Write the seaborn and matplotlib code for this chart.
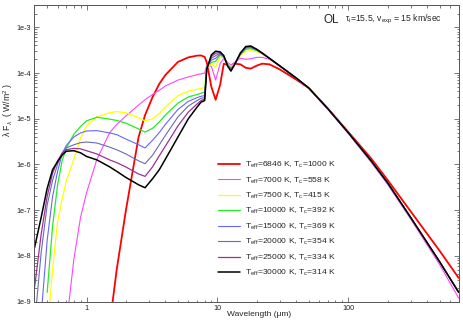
import numpy as np
import pandas as pd
import matplotlib
matplotlib.use('Agg')
import matplotlib.pyplot as plt
import seaborn as sns
from matplotlib.ticker import LogLocator, FuncFormatter, NullFormatter, FixedLocator

# Wavelength grid (micron) and lambda*F_lambda (W/m^2)
wavelength = [0.4, 0.45, 0.5, 0.55, 0.6, 0.65, 0.7, 0.8, 0.9, 1.0, 1.2, 1.5, 1.7, 2.0,
              2.5, 2.8, 3.2, 3.6, 4.0, 5.0, 6.0, 7.0, 7.5, 8.0, 8.3, 9.0, 9.7, 10.5,
              11.2, 12.0, 12.7, 13.5, 15.0, 16.5, 18.0, 20.0, 22.0, 25.0, 30.0, 40.0,
              50.0, 70.0, 100.0, 150.0, 200.0, 300.0, 500.0, 700.0]

flux_6846 = [None, None, None, None, None, None, None, None, None, None, None, 3e-10, 5e-9, 1.0e-7,
             4e-6, 1.2e-5, 3e-5, 5.8e-5, 9e-5, 1.75e-4, 2.2e-4, 2.4e-4, 2.42e-4, 2.25e-4, 1.7e-4, 5e-5, 2.6e-5, 5.5e-5,
             1.6e-4, 1.5e-4, 1.3e-4, 1.6e-4, 1.55e-4, 1.3e-4, 1.25e-4, 1.45e-4, 1.6e-4, 1.55e-4, 1.2e-4, 7.2e-5,
             4.7e-5, 1.68e-5, 5.2e-6, 1.35e-6, 4.6e-7, 9.5e-8, 1.3e-8, 3.3e-9]
flux_7000 = [None, None, None, None, None, None, 3e-10, 8.5e-9, 7e-8, 2.4e-7, 1.3e-6, 4.9e-6, 7.5e-6, 1.15e-5,
             2.0e-5, 2.6e-5, 3.4e-5, 4.2e-5, 5.2e-5, 7e-5, 8.2e-5, 9.2e-5, 9.6e-5, 1.0e-4, 1.5e-4, 1.4e-4, 7e-5, 1.6e-4,
             2.1e-4, 1.7e-4, 1.5e-4, 1.7e-4, 2.1e-4, 2.0e-4, 2.05e-4, 2.2e-4, 2.2e-4, 2.0e-4, 1.42e-4, 7.6e-5,
             4.6e-5, 1.6e-5, 4.8e-6, 1.12e-6, 3.7e-7, 6.5e-8, 6.5e-9, 1.2e-9]
flux_7500 = [None, None, 2e-10, 5e-9, 5.6e-8, 1.7e-7, 4.4e-7, 1.3e-6, 3.8e-6, 7e-6, 1.1e-5, 1.35e-5, 1.44e-5, 1.35e-5,
             1.05e-5, 9e-6, 1.0e-5, 1.3e-5, 1.8e-5, 3.2e-5, 4.0e-5, 4.4e-5, 4.6e-5, 4.8e-5, 1.3e-4, 1.6e-4, 1.35e-4, 2.3e-4,
             2.15e-4, 1.6e-4, 1.35e-4, 1.55e-4, 2.4e-4, 3.0e-4, 3.1e-4, 2.9e-4, 2.6e-4, 2.05e-4, 1.45e-4, 7.9e-5,
             4.75e-5, 1.65e-5, 5.0e-6, 1.2e-6, 4.0e-7, 7.0e-8, 7.5e-9, 1.6e-9]
flux_10000 = [None, None, 1.6e-9, 4.5e-8, 3.5e-7, 1.2e-6, 2.3e-6, 4.6e-6, 6.8e-6, 9e-6, 1.08e-5, 9.8e-6, 9.2e-6, 8e-6,
              6e-6, 5.1e-6, 6.2e-6, 8.5e-6, 1.2e-5, 2.2e-5, 3.0e-5, 3.4e-5, 3.6e-5, 3.8e-5, 1.4e-4, 1.7e-4, 1.8e-4, 2.5e-4,
              2.2e-4, 1.55e-4, 1.3e-4, 1.5e-4, 2.5e-4, 3.3e-4, 3.4e-4, 3.1e-4, 2.65e-4, 2.08e-4, 1.45e-4, 7.9e-5,
              4.75e-5, 1.65e-5, 5.0e-6, 1.2e-6, 4.0e-7, 7.0e-8, 7.5e-9, 1.6e-9]
flux_15000 = [None, 5e-10, 2.2e-8, 2e-7, 7e-7, 1.7e-6, 2.6e-6, 4e-6, 4.9e-6, 5.4e-6, 5.5e-6, 4.9e-6, 4.5e-6, 3.6e-6,
              2.7e-6, 2.3e-6, 3.4e-6, 5e-6, 7.5e-6, 1.6e-5, 2.4e-5, 2.9e-5, 3.1e-5, 3.2e-5, 1.35e-4, 1.9e-4, 2.1e-4, 2.6e-4,
              2.25e-4, 1.5e-4, 1.25e-4, 1.5e-4, 2.6e-4, 3.5e-4, 3.6e-4, 3.2e-4, 2.7e-4, 2.1e-4, 1.43e-4, 7.8e-5,
              4.7e-5, 1.65e-5, 5.0e-6, 1.2e-6, 4.0e-7, 7.0e-8, 7.5e-9, 1.6e-9]
flux_20000 = [3e-10, 1.2e-8, 1.3e-7, 4.5e-7, 1.0e-6, 1.8e-6, 2.3e-6, 2.7e-6, 3.0e-6, 3.1e-6, 2.95e-6, 2.4e-6, 2.1e-6, 1.7e-6,
              1.2e-6, 1.04e-6, 1.6e-6, 2.7e-6, 4.3e-6, 1.1e-5, 1.9e-5, 2.5e-5, 2.8e-5, 2.9e-5, 1.3e-4, 2.1e-4, 2.4e-4, 2.7e-4,
              2.3e-4, 1.5e-4, 1.2e-4, 1.5e-4, 2.65e-4, 3.6e-4, 3.7e-4, 3.25e-4, 2.7e-4, 2.1e-4, 1.43e-4, 7.8e-5,
              4.7e-5, 1.65e-5, 5.0e-6, 1.2e-6, 4.0e-7, 7.0e-8, 7.5e-9, 1.6e-9]
flux_25000 = [2e-9, 3e-8, 2e-7, 6.5e-7, 1.2e-6, 1.75e-6, 2.1e-6, 2.25e-6, 2.2e-6, 2.0e-6, 1.7e-6, 1.26e-6, 1.1e-6, 8.8e-7,
              6.2e-7, 5.5e-7, 8.9e-7, 1.55e-6, 2.5e-6, 7e-6, 1.4e-5, 2.1e-5, 2.5e-5, 2.7e-5, 1.25e-4, 2.3e-4, 2.7e-4, 2.8e-4,
              2.35e-4, 1.45e-4, 1.15e-4, 1.5e-4, 2.7e-4, 3.7e-4, 3.8e-4, 3.3e-4, 2.7e-4, 2.1e-4, 1.43e-4, 7.8e-5,
              4.7e-5, 1.65e-5, 5.0e-6, 1.2e-6, 4.0e-7, 7.0e-8, 7.5e-9, 1.6e-9]
flux_30000 = [1.5e-8, 7e-8, 3e-7, 7.7e-7, 1.15e-6, 1.6e-6, 1.95e-6, 2.0e-6, 1.8e-6, 1.5e-6, 1.26e-6, 8.9e-7, 7.1e-7, 5.2e-7,
              3.6e-7, 3.1e-7, 4.9e-7, 7.7e-7, 1.3e-6, 4e-6, 1e-5, 1.8e-5, 2.3e-5, 2.5e-5, 1.2e-4, 2.5e-4, 3.0e-4, 2.9e-4,
              2.4e-4, 1.4e-4, 1.1e-4, 1.5e-4, 2.75e-4, 3.8e-4, 3.9e-4, 3.3e-4, 2.75e-4, 2.1e-4, 1.43e-4, 7.8e-5,
              4.7e-5, 1.65e-5, 5.0e-6, 1.2e-6, 4.0e-7, 7.0e-8, 7.5e-9, 1.6e-9]

labels = [r'T$_{\rm eff}$=6846 K, T$_{\rm c}$=1000 K',
          r'T$_{\rm eff}$=7000 K, T$_{\rm c}$=558 K',
          r'T$_{\rm eff}$=7500 K, T$_{\rm c}$=415 K',
          r'T$_{\rm eff}$=10000 K, T$_{\rm c}$=392 K',
          r'T$_{\rm eff}$=15000 K, T$_{\rm c}$=369 K',
          r'T$_{\rm eff}$=20000 K, T$_{\rm c}$=354 K',
          r'T$_{\rm eff}$=25000 K, T$_{\rm c}$=334 K',
          r'T$_{\rm eff}$=30000 K, T$_{\rm c}$=314 K']
series = [flux_6846, flux_7000, flux_7500, flux_10000,
          flux_15000, flux_20000, flux_25000, flux_30000]
colors = ['#ff0000', '#ff44ff', '#ffff00', '#22ee22',
          '#6666ff', '#6a6ab8', '#993399', '#000000']
widths = [1.3, 0.8, 0.9, 0.9, 0.8, 0.8, 0.9, 1.1]

sns.set_style('ticks')
plt.rcParams['font.family'] = ['Liberation Sans', 'DejaVu Sans']
plt.rcParams['mathtext.fontset'] = 'custom'
plt.rcParams['mathtext.rm'] = 'Liberation Sans'
plt.rcParams['mathtext.it'] = 'Liberation Sans:italic'

fig = plt.figure(figsize=(4.63, 3.25), dpi=100)
ax = fig.add_axes([0.0745, 0.0717, 0.9162, 0.9129])

for flux, lab, col, lw in zip(series, labels, colors, widths):
    df = pd.DataFrame({'wl': wavelength, 'flux': flux}).dropna()
    sns.lineplot(data=df, x='wl', y='flux', ax=ax, color=col, linewidth=lw,
                 label=lab, sort=False, estimator=None)

ax.set_xscale('log')
ax.set_yscale('log')
ax.set_xlim(0.4, 700)
ax.set_ylim(1e-9, 3.07e-3)

# ticks
ax.xaxis.set_major_locator(FixedLocator([1, 10, 100]))
ax.xaxis.set_major_formatter(FuncFormatter(lambda v, p: f'{v:g}'))
ax.xaxis.set_minor_locator(LogLocator(base=10, subs=np.arange(2, 10), numticks=20))
ax.xaxis.set_minor_formatter(NullFormatter())
ax.yaxis.set_major_locator(LogLocator(base=10, numticks=20))
ax.yaxis.set_major_formatter(FuncFormatter(lambda v, p: f'1e{int(round(np.log10(v)))}'))
ax.yaxis.set_minor_locator(LogLocator(base=10, subs=np.arange(2, 10), numticks=20))
ax.yaxis.set_minor_formatter(NullFormatter())
ax.tick_params(which='both', direction='in', top=True, right=True,
               width=0.5, colors='#444444', labelcolor='#222222', labelsize=5.2, pad=2.5)
ax.tick_params(which='major', length=3.5)
ax.tick_params(which='minor', length=1.8, labelbottom=False, labelleft=False)
for s in ax.spines.values():
    s.set_linewidth(0.7)
    s.set_color('#555555')

ax.set_xlabel('Wavelength (μm)', fontsize=6)
ax.set_ylabel('λ F$_λ$  ( W/m$^2$ )', fontsize=6.3)
ax.xaxis.set_label_coords(0.529, -0.033)
ax.yaxis.set_label_coords(-0.046, 0.646)

ax.text(0.681, 0.95, 'OL', transform=ax.transAxes, fontsize=8.5, va='center', ha='left')
ax.text(0.733, 0.95, r'τ$_{\rm i}$=15.5, v$_{\rm exp}$ = 15 km/sec', transform=ax.transAxes,
        fontsize=6.2, va='center', ha='left')

handles, labs = ax.get_legend_handles_labels()
ax.legend(handles, labs, loc='upper left', bbox_to_anchor=(0.4326, 0.478),
          frameon=False, fontsize=6.1, borderpad=0, borderaxespad=0,
          handlelength=2.6, handletextpad=0.6, labelspacing=0.62)

fig.savefig('out.png', dpi=100)
